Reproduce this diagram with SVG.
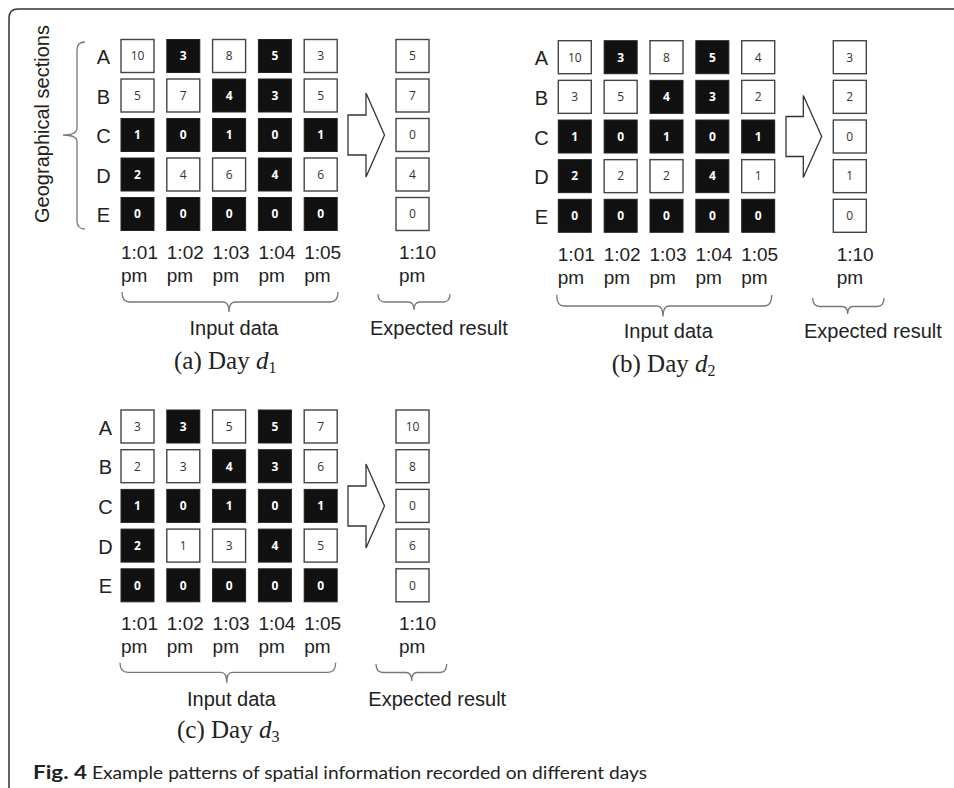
<svg xmlns="http://www.w3.org/2000/svg" width="954" height="788" viewBox="0 0 954 788">
<style>
.w{fill:#fff;stroke:#444;stroke-width:1.4}
.k{fill:#111;stroke:#222;stroke-width:1}
.n{font-family:"Open Sans","Noto Sans",sans-serif;font-size:12px;text-anchor:middle;fill:#333}
.nk{font-family:"Open Sans","Noto Sans",sans-serif;font-size:12px;text-anchor:middle;fill:#fff;font-weight:bold}
.lab{font-family:"Liberation Sans",Arial,sans-serif;font-size:20px;fill:#222}
.row{font-family:"Liberation Sans",Arial,sans-serif;font-size:20px;fill:#222;text-anchor:middle}
.tm{font-family:"Liberation Sans",Arial,sans-serif;font-size:19px;fill:#222}
.cap{font-family:"Liberation Serif","Times New Roman",serif;font-size:25px;fill:#222}
.br{fill:none;stroke:#777;stroke-width:1.3}
.arr{fill:#fff;stroke:#333;stroke-width:1.3;stroke-linejoin:miter}
.fc{font-family:Lato,"Open Sans",sans-serif;font-size:18px;fill:#222}
</style>
<rect width="954" height="788" fill="#fff"/>
<path d="M9,788 V18 Q9,9 18,9 H954" fill="none" stroke="#333" stroke-width="1.5"/>

<!-- Panel (a) -->
<g id="panel-a">
<text class="lab" transform="translate(49,124) rotate(-90)" text-anchor="middle">Geographical sections</text>
<text class="row" x="103.5" y="64">A</text>
<text class="row" x="103.5" y="103.5">B</text>
<text class="row" x="103.5" y="143">C</text>
<text class="row" x="103.5" y="182.5">D</text>
<text class="row" x="103.5" y="222">E</text>
<g id="a-A1"><rect class="w" x="121" y="39.5" width="33" height="33"/><text class="n" x="137.5" y="60.3">10</text></g>
<g id="a-A2"><rect class="k" x="166.8" y="39.5" width="33" height="33"/><text class="nk" x="183.3" y="60.3">3</text></g>
<g id="a-A3"><rect class="w" x="212.6" y="39.5" width="33" height="33"/><text class="n" x="229.1" y="60.3">8</text></g>
<g id="a-A4"><rect class="k" x="258.4" y="39.5" width="33" height="33"/><text class="nk" x="274.9" y="60.3">5</text></g>
<g id="a-A5"><rect class="w" x="304.2" y="39.5" width="33" height="33"/><text class="n" x="320.7" y="60.3">3</text></g>
<g id="a-B1"><rect class="w" x="121" y="79" width="33" height="33"/><text class="n" x="137.5" y="99.8">5</text></g>
<g id="a-B2"><rect class="w" x="166.8" y="79" width="33" height="33"/><text class="n" x="183.3" y="99.8">7</text></g>
<g id="a-B3"><rect class="k" x="212.6" y="79" width="33" height="33"/><text class="nk" x="229.1" y="99.8">4</text></g>
<g id="a-B4"><rect class="k" x="258.4" y="79" width="33" height="33"/><text class="nk" x="274.9" y="99.8">3</text></g>
<g id="a-B5"><rect class="w" x="304.2" y="79" width="33" height="33"/><text class="n" x="320.7" y="99.8">5</text></g>
<g id="a-C1"><rect class="k" x="121" y="118.5" width="33" height="33"/><text class="nk" x="137.5" y="139.3">1</text></g>
<g id="a-C2"><rect class="k" x="166.8" y="118.5" width="33" height="33"/><text class="nk" x="183.3" y="139.3">0</text></g>
<g id="a-C3"><rect class="k" x="212.6" y="118.5" width="33" height="33"/><text class="nk" x="229.1" y="139.3">1</text></g>
<g id="a-C4"><rect class="k" x="258.4" y="118.5" width="33" height="33"/><text class="nk" x="274.9" y="139.3">0</text></g>
<g id="a-C5"><rect class="k" x="304.2" y="118.5" width="33" height="33"/><text class="nk" x="320.7" y="139.3">1</text></g>
<g id="a-D1"><rect class="k" x="121" y="158" width="33" height="33"/><text class="nk" x="137.5" y="178.8">2</text></g>
<g id="a-D2"><rect class="w" x="166.8" y="158" width="33" height="33"/><text class="n" x="183.3" y="178.8">4</text></g>
<g id="a-D3"><rect class="w" x="212.6" y="158" width="33" height="33"/><text class="n" x="229.1" y="178.8">6</text></g>
<g id="a-D4"><rect class="k" x="258.4" y="158" width="33" height="33"/><text class="nk" x="274.9" y="178.8">4</text></g>
<g id="a-D5"><rect class="w" x="304.2" y="158" width="33" height="33"/><text class="n" x="320.7" y="178.8">6</text></g>
<g id="a-E1"><rect class="k" x="121" y="197.5" width="33" height="33"/><text class="nk" x="137.5" y="218.3">0</text></g>
<g id="a-E2"><rect class="k" x="166.8" y="197.5" width="33" height="33"/><text class="nk" x="183.3" y="218.3">0</text></g>
<g id="a-E3"><rect class="k" x="212.6" y="197.5" width="33" height="33"/><text class="nk" x="229.1" y="218.3">0</text></g>
<g id="a-E4"><rect class="k" x="258.4" y="197.5" width="33" height="33"/><text class="nk" x="274.9" y="218.3">0</text></g>
<g id="a-E5"><rect class="k" x="304.2" y="197.5" width="33" height="33"/><text class="nk" x="320.7" y="218.3">0</text></g>
<g id="a-R1"><rect class="w" x="396" y="39.5" width="33" height="33"/><text class="n" x="412.5" y="60.3">5</text></g>
<g id="a-R2"><rect class="w" x="396" y="79" width="33" height="33"/><text class="n" x="412.5" y="99.8">7</text></g>
<g id="a-R3"><rect class="w" x="396" y="118.5" width="33" height="33"/><text class="n" x="412.5" y="139.3">0</text></g>
<g id="a-R4"><rect class="w" x="396" y="158" width="33" height="33"/><text class="n" x="412.5" y="178.8">4</text></g>
<g id="a-R5"><rect class="w" x="396" y="197.5" width="33" height="33"/><text class="n" x="412.5" y="218.3">0</text></g>
<text class="tm" y="259"><tspan x="121">1:01</tspan><tspan x="166.8">1:02</tspan><tspan x="212.6">1:03</tspan><tspan x="258.4">1:04</tspan><tspan x="304.2">1:05</tspan><tspan x="399">1:10</tspan></text>
<text class="tm" y="282"><tspan x="121">pm</tspan><tspan x="166.8">pm</tspan><tspan x="212.6">pm</tspan><tspan x="258.4">pm</tspan><tspan x="304.2">pm</tspan><tspan x="399">pm</tspan></text>
<text class="lab" x="234" y="335" text-anchor="middle">Input data</text>
<text class="lab" x="370" y="335">Expected result</text>
<text class="cap" x="174" y="368.5">(a) Day <tspan font-style="italic">d</tspan><tspan font-size="16" dy="4">1</tspan></text>
</g>

<!-- Panel (b) -->
<g id="panel-b">
<text class="row" x="541.5" y="65.2">A</text>
<text class="row" x="541.5" y="104.9">B</text>
<text class="row" x="541.5" y="144.5">C</text>
<text class="row" x="541.5" y="184.2">D</text>
<text class="row" x="541.5" y="223.8">E</text>
<g id="b-A1"><rect class="w" x="558.3" y="40.7" width="33" height="33"/><text class="n" x="574.8" y="61.5">10</text></g>
<g id="b-A2"><rect class="k" x="604.15" y="40.7" width="33" height="33"/><text class="nk" x="620.65" y="61.5">3</text></g>
<g id="b-A3"><rect class="w" x="650" y="40.7" width="33" height="33"/><text class="n" x="666.5" y="61.5">8</text></g>
<g id="b-A4"><rect class="k" x="695.85" y="40.7" width="33" height="33"/><text class="nk" x="712.35" y="61.5">5</text></g>
<g id="b-A5"><rect class="w" x="741.7" y="40.7" width="33" height="33"/><text class="n" x="758.2" y="61.5">4</text></g>
<g id="b-B1"><rect class="w" x="558.3" y="80.35" width="33" height="33"/><text class="n" x="574.8" y="101.15">3</text></g>
<g id="b-B2"><rect class="w" x="604.15" y="80.35" width="33" height="33"/><text class="n" x="620.65" y="101.15">5</text></g>
<g id="b-B3"><rect class="k" x="650" y="80.35" width="33" height="33"/><text class="nk" x="666.5" y="101.15">4</text></g>
<g id="b-B4"><rect class="k" x="695.85" y="80.35" width="33" height="33"/><text class="nk" x="712.35" y="101.15">3</text></g>
<g id="b-B5"><rect class="w" x="741.7" y="80.35" width="33" height="33"/><text class="n" x="758.2" y="101.15">2</text></g>
<g id="b-C1"><rect class="k" x="558.3" y="120" width="33" height="33"/><text class="nk" x="574.8" y="140.8">1</text></g>
<g id="b-C2"><rect class="k" x="604.15" y="120" width="33" height="33"/><text class="nk" x="620.65" y="140.8">0</text></g>
<g id="b-C3"><rect class="k" x="650" y="120" width="33" height="33"/><text class="nk" x="666.5" y="140.8">1</text></g>
<g id="b-C4"><rect class="k" x="695.85" y="120" width="33" height="33"/><text class="nk" x="712.35" y="140.8">0</text></g>
<g id="b-C5"><rect class="k" x="741.7" y="120" width="33" height="33"/><text class="nk" x="758.2" y="140.8">1</text></g>
<g id="b-D1"><rect class="k" x="558.3" y="159.65" width="33" height="33"/><text class="nk" x="574.8" y="180.45">2</text></g>
<g id="b-D2"><rect class="w" x="604.15" y="159.65" width="33" height="33"/><text class="n" x="620.65" y="180.45">2</text></g>
<g id="b-D3"><rect class="w" x="650" y="159.65" width="33" height="33"/><text class="n" x="666.5" y="180.45">2</text></g>
<g id="b-D4"><rect class="k" x="695.85" y="159.65" width="33" height="33"/><text class="nk" x="712.35" y="180.45">4</text></g>
<g id="b-D5"><rect class="w" x="741.7" y="159.65" width="33" height="33"/><text class="n" x="758.2" y="180.45">1</text></g>
<g id="b-E1"><rect class="k" x="558.3" y="199.3" width="33" height="33"/><text class="nk" x="574.8" y="220.1">0</text></g>
<g id="b-E2"><rect class="k" x="604.15" y="199.3" width="33" height="33"/><text class="nk" x="620.65" y="220.1">0</text></g>
<g id="b-E3"><rect class="k" x="650" y="199.3" width="33" height="33"/><text class="nk" x="666.5" y="220.1">0</text></g>
<g id="b-E4"><rect class="k" x="695.85" y="199.3" width="33" height="33"/><text class="nk" x="712.35" y="220.1">0</text></g>
<g id="b-E5"><rect class="k" x="741.7" y="199.3" width="33" height="33"/><text class="nk" x="758.2" y="220.1">0</text></g>
<g id="b-R1"><rect class="w" x="833.3" y="40.7" width="33" height="33"/><text class="n" x="849.8" y="61.5">3</text></g>
<g id="b-R2"><rect class="w" x="833.3" y="80.35" width="33" height="33"/><text class="n" x="849.8" y="101.15">2</text></g>
<g id="b-R3"><rect class="w" x="833.3" y="120" width="33" height="33"/><text class="n" x="849.8" y="140.8">0</text></g>
<g id="b-R4"><rect class="w" x="833.3" y="159.65" width="33" height="33"/><text class="n" x="849.8" y="180.45">1</text></g>
<g id="b-R5"><rect class="w" x="833.3" y="199.3" width="33" height="33"/><text class="n" x="849.8" y="220.1">0</text></g>
<text class="tm" y="260.5"><tspan x="557.8">1:01</tspan><tspan x="603.7">1:02</tspan><tspan x="649.5">1:03</tspan><tspan x="695.4">1:04</tspan><tspan x="741.2">1:05</tspan><tspan x="836.7">1:10</tspan></text>
<text class="tm" y="283.5"><tspan x="557.8">pm</tspan><tspan x="603.7">pm</tspan><tspan x="649.5">pm</tspan><tspan x="695.4">pm</tspan><tspan x="741.2">pm</tspan><tspan x="836.7">pm</tspan></text>
<text class="lab" x="668.3" y="337.5" text-anchor="middle">Input data</text>
<text class="lab" x="804" y="337.5">Expected result</text>
<text class="cap" x="611.7" y="371.5">(b) Day <tspan font-style="italic">d</tspan><tspan font-size="16" dy="4">2</tspan></text>
</g>

<!-- Panel (c) -->
<g id="panel-c">
<text class="row" x="105.5" y="434.5">A</text>
<text class="row" x="105.5" y="474.2">B</text>
<text class="row" x="105.5" y="513.9">C</text>
<text class="row" x="105.5" y="553.6">D</text>
<text class="row" x="105.5" y="593.3">E</text>
<g id="c-A1"><rect class="w" x="121" y="410" width="33" height="33"/><text class="n" x="137.5" y="430.8">3</text></g>
<g id="c-A2"><rect class="k" x="166.8" y="410" width="33" height="33"/><text class="nk" x="183.3" y="430.8">3</text></g>
<g id="c-A3"><rect class="w" x="212.6" y="410" width="33" height="33"/><text class="n" x="229.1" y="430.8">5</text></g>
<g id="c-A4"><rect class="k" x="258.4" y="410" width="33" height="33"/><text class="nk" x="274.9" y="430.8">5</text></g>
<g id="c-A5"><rect class="w" x="304.2" y="410" width="33" height="33"/><text class="n" x="320.7" y="430.8">7</text></g>
<g id="c-B1"><rect class="w" x="121" y="449.7" width="33" height="33"/><text class="n" x="137.5" y="470.5">2</text></g>
<g id="c-B2"><rect class="w" x="166.8" y="449.7" width="33" height="33"/><text class="n" x="183.3" y="470.5">3</text></g>
<g id="c-B3"><rect class="k" x="212.6" y="449.7" width="33" height="33"/><text class="nk" x="229.1" y="470.5">4</text></g>
<g id="c-B4"><rect class="k" x="258.4" y="449.7" width="33" height="33"/><text class="nk" x="274.9" y="470.5">3</text></g>
<g id="c-B5"><rect class="w" x="304.2" y="449.7" width="33" height="33"/><text class="n" x="320.7" y="470.5">6</text></g>
<g id="c-C1"><rect class="k" x="121" y="489.4" width="33" height="33"/><text class="nk" x="137.5" y="510.2">1</text></g>
<g id="c-C2"><rect class="k" x="166.8" y="489.4" width="33" height="33"/><text class="nk" x="183.3" y="510.2">0</text></g>
<g id="c-C3"><rect class="k" x="212.6" y="489.4" width="33" height="33"/><text class="nk" x="229.1" y="510.2">1</text></g>
<g id="c-C4"><rect class="k" x="258.4" y="489.4" width="33" height="33"/><text class="nk" x="274.9" y="510.2">0</text></g>
<g id="c-C5"><rect class="k" x="304.2" y="489.4" width="33" height="33"/><text class="nk" x="320.7" y="510.2">1</text></g>
<g id="c-D1"><rect class="k" x="121" y="529.1" width="33" height="33"/><text class="nk" x="137.5" y="549.9">2</text></g>
<g id="c-D2"><rect class="w" x="166.8" y="529.1" width="33" height="33"/><text class="n" x="183.3" y="549.9">1</text></g>
<g id="c-D3"><rect class="w" x="212.6" y="529.1" width="33" height="33"/><text class="n" x="229.1" y="549.9">3</text></g>
<g id="c-D4"><rect class="k" x="258.4" y="529.1" width="33" height="33"/><text class="nk" x="274.9" y="549.9">4</text></g>
<g id="c-D5"><rect class="w" x="304.2" y="529.1" width="33" height="33"/><text class="n" x="320.7" y="549.9">5</text></g>
<g id="c-E1"><rect class="k" x="121" y="568.8" width="33" height="33"/><text class="nk" x="137.5" y="589.6">0</text></g>
<g id="c-E2"><rect class="k" x="166.8" y="568.8" width="33" height="33"/><text class="nk" x="183.3" y="589.6">0</text></g>
<g id="c-E3"><rect class="k" x="212.6" y="568.8" width="33" height="33"/><text class="nk" x="229.1" y="589.6">0</text></g>
<g id="c-E4"><rect class="k" x="258.4" y="568.8" width="33" height="33"/><text class="nk" x="274.9" y="589.6">0</text></g>
<g id="c-E5"><rect class="k" x="304.2" y="568.8" width="33" height="33"/><text class="nk" x="320.7" y="589.6">0</text></g>
<g id="c-R1"><rect class="w" x="396" y="410" width="33" height="33"/><text class="n" x="412.5" y="430.8">10</text></g>
<g id="c-R2"><rect class="w" x="396" y="449.7" width="33" height="33"/><text class="n" x="412.5" y="470.5">8</text></g>
<g id="c-R3"><rect class="w" x="396" y="489.4" width="33" height="33"/><text class="n" x="412.5" y="510.2">0</text></g>
<g id="c-R4"><rect class="w" x="396" y="529.1" width="33" height="33"/><text class="n" x="412.5" y="549.9">6</text></g>
<g id="c-R5"><rect class="w" x="396" y="568.8" width="33" height="33"/><text class="n" x="412.5" y="589.6">0</text></g>
<text class="tm" y="629.5"><tspan x="121">1:01</tspan><tspan x="166.8">1:02</tspan><tspan x="212.6">1:03</tspan><tspan x="258.4">1:04</tspan><tspan x="304.2">1:05</tspan><tspan x="399">1:10</tspan></text>
<text class="tm" y="652.5"><tspan x="121">pm</tspan><tspan x="166.8">pm</tspan><tspan x="212.6">pm</tspan><tspan x="258.4">pm</tspan><tspan x="304.2">pm</tspan><tspan x="399">pm</tspan></text>
<text class="lab" x="231.5" y="705.5" text-anchor="middle">Input data</text>
<text class="lab" x="368.3" y="705.5">Expected result</text>
<text class="cap" x="177" y="738">(c) Day <tspan font-style="italic">d</tspan><tspan font-size="16" dy="4">3</tspan></text>
</g>

<g id="connectors">
<path class="br" d="M85,42 Q77,42 77,50 V128 Q77,135 63,135 Q77,135 77,142 V221 Q77,229 85,229"/>
<path class="br" d="M122,292 Q122,302 130,302 H223 Q229,302 229,312 Q229,302 235,302 H330 Q338,302 338,292"/>
<path class="br" d="M378,294 Q378,302 385,302 H408 Q414,302 414,310 Q414,302 420,302 H443 Q450,302 450,294"/>
<path class="br" d="M556.7,295 Q556.7,306 564,306 H657 Q663,306 663,316.5 Q663,306 669,306 H764 Q771.7,306 771.7,295"/>
<path class="br" d="M812.7,298 Q812.7,306.5 820,306.5 H842 Q847.7,306.5 847.7,314 Q847.7,306.5 853,306.5 H877 Q884,306.5 884,298"/>
<path class="br" d="M120,662.7 Q120,672.3 128,672.3 H221 Q226.7,672.3 226.7,682.7 Q226.7,672.3 232,672.3 H328 Q335.7,672.3 335.7,662.7"/>
<path class="br" d="M376,664 Q376,672.5 383,672.5 H406 Q411.7,672.5 411.7,681 Q411.7,672.5 417,672.5 H440 Q446.7,672.5 446.7,664"/>
<path class="arr" d="M348,115 H366 V93 L384.5,135 L366,177 V155 H348 Z"/>
<path class="arr" d="M786,116.5 H803.3 V95.5 L821.7,136.5 L803.3,177.5 V156.5 H786 Z"/>
<path class="arr" d="M348,486 H366 V464 L384.5,506 L366,548 V526 H348 Z"/>
</g>

<g id="caption">
<text class="fc" x="33" y="779" font-weight="bold" textLength="54" lengthAdjust="spacingAndGlyphs">Fig. 4</text>
<text class="fc" x="92" y="779" textLength="555" lengthAdjust="spacingAndGlyphs">Example patterns of spatial information recorded on different days</text>
</g>
</svg>
